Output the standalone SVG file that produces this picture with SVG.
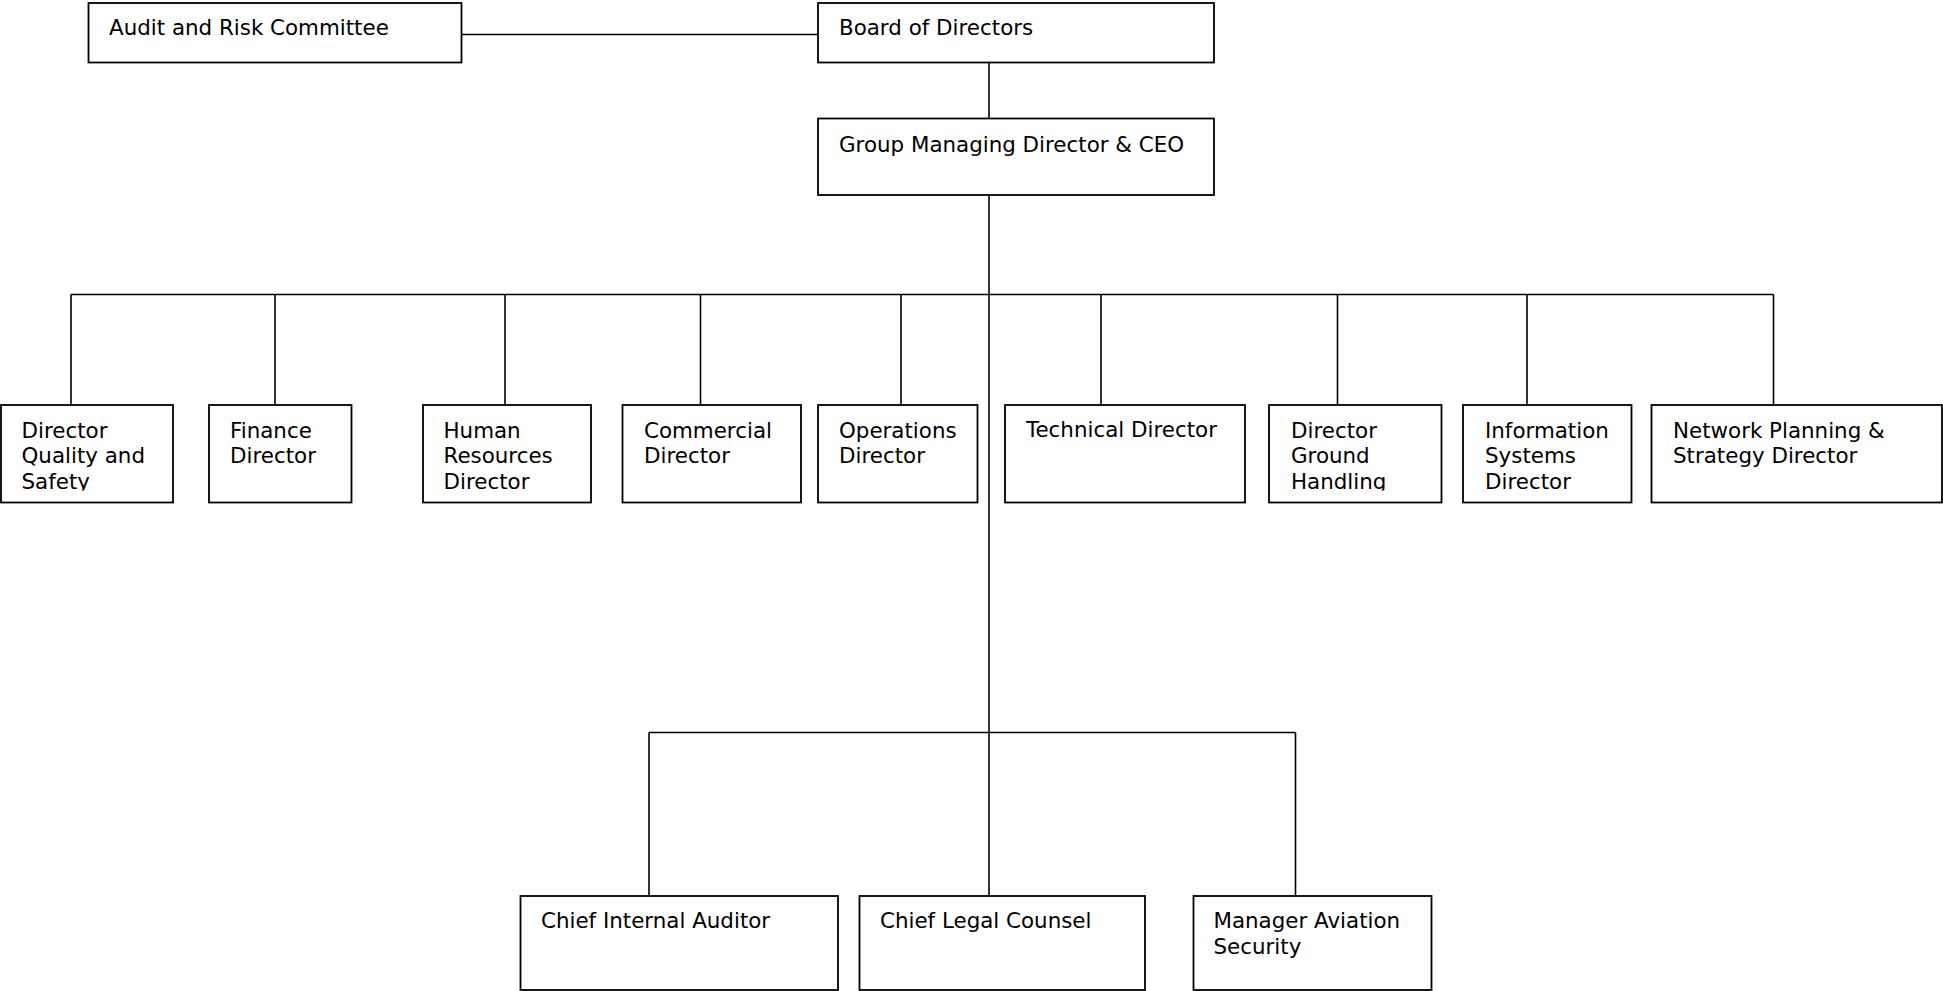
<svg xmlns="http://www.w3.org/2000/svg" width="1943" height="991" viewBox="0 0 1943 991">
<style>
.box{fill:#fff;stroke:#000;stroke-width:1.8}
.ln{fill:none;stroke:#000;stroke-width:1.6}
text{font-family:"DejaVu Sans","Verdana",sans-serif;font-size:21.4px;fill:#000}
</style>
<defs>
<clipPath id="rowclip"><rect x="0" y="400" width="1943" height="90.5"/></clipPath>
</defs>
<rect width="1943" height="991" fill="#fff"/>
<g id="connectors">
<path class="ln" d="M461.5 34.5H818"/>
<path class="ln" d="M989 62.5V118.5"/>
<path class="ln" d="M989 195V896"/>
<path class="ln" d="M71 294.5H1773.5"/>
<path class="ln" d="M71 294.5V405M275 294.5V405M505 294.5V405M700.5 294.5V405M901 294.5V405M1101 294.5V405M1337.5 294.5V405M1527 294.5V405M1773.5 294.5V405"/>
<path class="ln" d="M649 732.5H1295.5M649 732.5V896M1295.5 732.5V896"/>
</g>
<g id="audit"><rect class="box" x="88.5" y="3" width="373" height="59.5"/><text x="109" y="34.5">Audit and Risk Committee</text></g>
<g id="board"><rect class="box" x="818" y="3" width="396" height="59.5"/><text x="839" y="34.5">Board of Directors</text></g>
<g id="ceo"><rect class="box" x="818" y="118.5" width="396" height="76.5"/><text x="839" y="151.5">Group Managing Director &amp; CEO</text></g>
<g id="dqs"><rect class="box" x="1" y="405" width="172" height="97.5"/><text clip-path="url(#rowclip)" x="21.5" y="437.5"><tspan x="21.5">Director</tspan><tspan x="21.5" dy="25.5">Quality and</tspan><tspan x="21.5" dy="25.5">Safety</tspan></text></g>
<g id="finance"><rect class="box" x="209" y="405" width="142.5" height="97.5"/><text x="230" y="437.5"><tspan x="230">Finance</tspan><tspan x="230" dy="25.5">Director</tspan></text></g>
<g id="hr"><rect class="box" x="423" y="405" width="168" height="97.5"/><text clip-path="url(#rowclip)" x="443.5" y="437.5"><tspan x="443.5">Human</tspan><tspan x="443.5" dy="25.5">Resources</tspan><tspan x="443.5" dy="25.5">Director</tspan></text></g>
<g id="commercial"><rect class="box" x="622.5" y="405" width="178.5" height="97.5"/><text x="644" y="437.5"><tspan x="644">Commercial</tspan><tspan x="644" dy="25.5">Director</tspan></text></g>
<g id="operations"><rect class="box" x="818" y="405" width="159.5" height="97.5"/><text x="839" y="437.5"><tspan x="839">Operations</tspan><tspan x="839" dy="25.5">Director</tspan></text></g>
<g id="technical"><rect class="box" x="1005" y="405" width="240" height="97.5"/><text x="1026" y="436.5">Technical Director</text></g>
<g id="ground"><rect class="box" x="1269" y="405" width="172.5" height="97.5"/><text clip-path="url(#rowclip)" x="1291" y="437.5"><tspan x="1291">Director</tspan><tspan x="1291" dy="25.5">Ground</tspan><tspan x="1291" dy="25.5">Handling</tspan></text></g>
<g id="infosys"><rect class="box" x="1463" y="405" width="168.5" height="97.5"/><text clip-path="url(#rowclip)" x="1485" y="437.5"><tspan x="1485">Information</tspan><tspan x="1485" dy="25.5">Systems</tspan><tspan x="1485" dy="25.5">Director</tspan></text></g>
<g id="network"><rect class="box" x="1651.5" y="405" width="290.5" height="97.5"/><text x="1673" y="437.5"><tspan x="1673">Network Planning &amp;</tspan><tspan x="1673" dy="25.5">Strategy Director</tspan></text></g>
<g id="auditor"><rect class="box" x="520.5" y="896" width="317.5" height="94"/><text x="541" y="928">Chief Internal Auditor</text></g>
<g id="legal"><rect class="box" x="859.5" y="896" width="285.5" height="94"/><text x="880" y="928">Chief Legal Counsel</text></g>
<g id="security"><rect class="box" x="1193.5" y="896" width="238" height="94"/><text x="1213.5" y="928"><tspan x="1213.5">Manager Aviation</tspan><tspan x="1213.5" dy="25.5">Security</tspan></text></g>
</svg>
